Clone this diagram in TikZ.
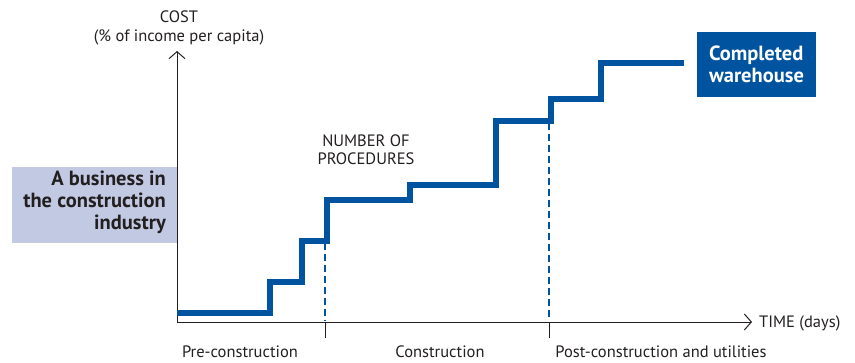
\documentclass[tikz,border=0pt]{standalone}
\usepackage{fontspec}
\setmainfont{PT Sans}
\usetikzlibrary{arrows.meta}
\definecolor{wbblue}{HTML}{00539F}
\definecolor{lightbox}{HTML}{C2C9E3}
\definecolor{txt}{HTML}{231F20}
\begin{document}
\begin{tikzpicture}[x=1pt,y=-1pt,
  axis/.style={draw=txt,line width=1pt},
  steps/.style={draw=wbblue,line width=6pt,line join=miter},
  guide/.style={draw=wbblue,line width=1.5pt,dash pattern=on 7pt off 4pt},
  lbl/.style={text=txt,font=\fontsize{16.5}{18}\selectfont,inner sep=0pt},
  boldlbl/.style={font=\bfseries\fontsize{20.5}{22}\selectfont,inner sep=0pt,align=right}]
\useasboundingbox (0,0) rectangle (855,362);
% axes
\coordinate (O) at (177,322);
\coordinate (ytop) at (177,51);
\coordinate (xend) at (752,322);
\draw[axis,-{Straight Barb[length=7pt,width=16pt]}] (O) -- (ytop);
\draw[axis,-{Straight Barb[length=7pt,width=16pt]}] (O) -- (xend);
% ticks
\coordinate (t1a) at (325,322); \coordinate (t1b) at (325,338);
\coordinate (t2a) at (549,322); \coordinate (t2b) at (549,338);
\draw[axis] (t1a) -- (t1b);
\draw[axis] (t2a) -- (t2b);
% dashed guides
\coordinate (d1a) at (325,243); \coordinate (d1b) at (325,321);
\coordinate (d2a) at (549,123); \coordinate (d2b) at (549,318);
\draw[guide] (d1a) -- (d1b);
\draw[guide] (d2a) -- (d2b);
% step line
\coordinate (s0) at (177,313);
\draw[steps] (s0) -| (270,282) -| (302,241) -| (327,200) -| (410,185) -| (496,121) -| (551,99) -| (601,63) -- (684,63);
% boxes
\node[fill=lightbox,minimum width=165pt,minimum height=76pt,inner sep=0pt] (biz) at (94.5,205) {};
\node[boldlbl,text=txt,anchor=east] (biztxt) at (166,202) {A business in\\the construction\\industry};
\node[fill=wbblue,text=white,font=\bfseries\fontsize{20.5}{21.5}\selectfont,align=left,minimum width=119pt,minimum height=65pt,inner sep=0pt] (wh) at (756.5,64.5) {Completed\\warehouse};
% labels
\node[lbl] (cost) at (179,17) {COST};
\node[lbl] (costsub) at (179,37) {(\% of income per capita)};
\node[lbl,align=center] (proc) at (366,150) {NUMBER OF\\PROCEDURES};
\node[lbl,anchor=west] (time) at (759,323) {TIME (days)};
\node[lbl] (pre) at (240,352) {Pre-construction};
\node[lbl] (con) at (440,352) {Construction};
\node[lbl] (post) at (661,352) {Post-construction and utilities};
\end{tikzpicture}
\end{document}
